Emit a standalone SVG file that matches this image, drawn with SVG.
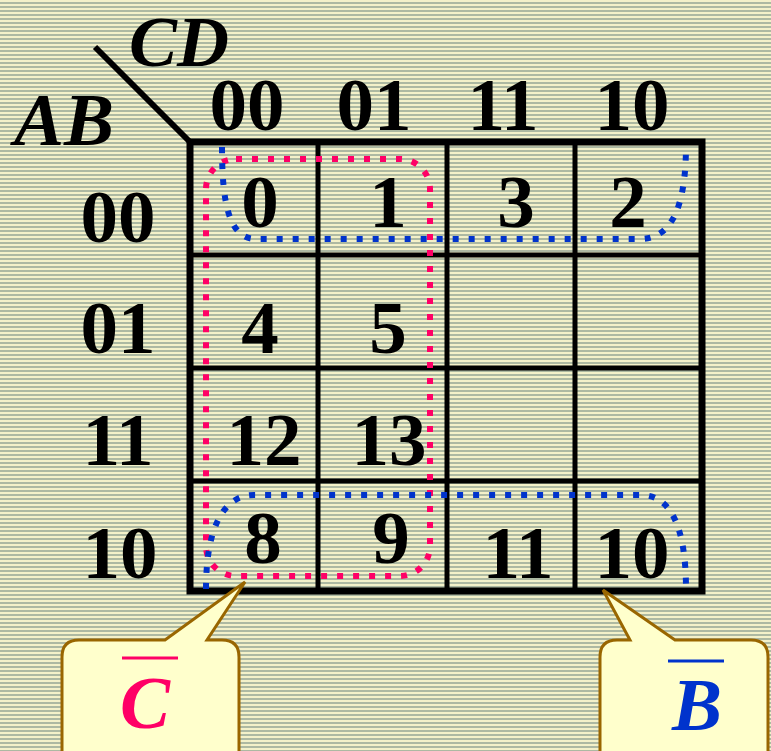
<svg xmlns="http://www.w3.org/2000/svg" width="771" height="751" viewBox="0 0 771 751">
<defs>
<pattern id="stripes" x="0" y="0" width="8" height="4" patternUnits="userSpaceOnUse">
<rect x="0" y="0" width="8" height="4" fill="#f3f1c9"/>
<rect x="0" y="2" width="8" height="2" fill="#adb9a2"/>
</pattern>
<style>
.t{font-family:"Liberation Serif","Times New Roman",serif;font-weight:bold;font-size:75px;fill:#000;text-anchor:middle}
.it{font-style:italic}
.grid{fill:none;stroke:#000;stroke-width:5}
.outer{fill:none;stroke:#000;stroke-width:7}
.red{fill:none;stroke:#ff0066;stroke-width:6;stroke-dasharray:6 10}
.blue{fill:none;stroke:#0033cc;stroke-width:6;stroke-dasharray:6 10}
.call{fill:#ffffcc;stroke:#996600;stroke-width:3;stroke-linejoin:miter}
</style>
</defs>
<rect x="0" y="0" width="771" height="751" fill="url(#stripes)"/>

<g id="map-frame">
<line x1="95" y1="47" x2="190" y2="142" stroke="#000" stroke-width="6"/>
<line class="grid" x1="318" y1="142" x2="318" y2="591"/>
<line class="grid" x1="447" y1="142" x2="447" y2="591"/>
<line class="grid" x1="575" y1="142" x2="575" y2="591"/>
<line class="grid" x1="190" y1="255" x2="702" y2="255"/>
<line class="grid" x1="190" y1="368" x2="702" y2="368"/>
<line class="grid" x1="190" y1="481" x2="702" y2="481"/>
<rect class="outer" x="190" y="142" width="512" height="449"/>
</g>

<g id="axis-labels">
<text class="t it" x="129" y="66" style="text-anchor:start;font-size:72px">CD</text>
<text class="t it" x="14" y="145" style="text-anchor:start">AB</text>
</g>

<g id="col-headers">
<text class="t" x="247" y="130">00</text>
<text class="t" x="374" y="130">01</text>
<text class="t" x="503" y="130">11</text>
<text class="t" x="632" y="130">10</text>
</g>

<g id="row-headers">
<text class="t" x="118" y="242">00</text>
<text class="t" x="118" y="353">01</text>
<text class="t" x="118" y="465">11</text>
<text class="t" x="120" y="578">10</text>
</g>

<g id="cells">
<text class="t" x="260" y="227">0</text>
<text class="t" x="388" y="227">1</text>
<text class="t" x="516" y="227">3</text>
<text class="t" x="628" y="227">2</text>
<text class="t" x="260" y="353">4</text>
<text class="t" x="388" y="353">5</text>
<text class="t" x="264" y="465">12</text>
<text class="t" x="389" y="465">13</text>
<text class="t" x="263" y="563">8</text>
<text class="t" x="391" y="563">9</text>
<text class="t" x="518" y="578">11</text>
<text class="t" x="632" y="578">10</text>
</g>

<g id="connectors">
<rect id="loop-c" class="red" x="206" y="159" width="224" height="417" rx="30" ry="30"/>
<path id="loop-b-top" class="blue" d="M222,147 C222,200 228,239 256,239 L640,239 C670,239 686,210 686,145"/>
<path id="loop-b-bottom" class="blue" d="M206,589 C206,535 220,495 254,495 L641,495 C672,495 686,530 686,589"/>
</g>

<g id="callout-c">
<path class="call" d="M79,640 L165,640 L245,582 L207,640 L222,640 Q239,640 239,657 L239,770 L62,770 L62,657 Q62,640 79,640 Z"/>
<line x1="122" y1="658" x2="178" y2="658" stroke="#ff0066" stroke-width="3"/>
<text class="t it" x="145" y="728" style="fill:#ff0066">C</text>
</g>

<g id="callout-b">
<path class="call" d="M617,640 L630,640 L603,590 L675,640 L751,640 Q768,640 768,657 L768,770 L600,770 L600,657 Q600,640 617,640 Z"/>
<line x1="668" y1="661" x2="724" y2="661" stroke="#0033cc" stroke-width="3"/>
<text class="t it" x="697" y="730" style="fill:#0033cc">B</text>
</g>
</svg>
